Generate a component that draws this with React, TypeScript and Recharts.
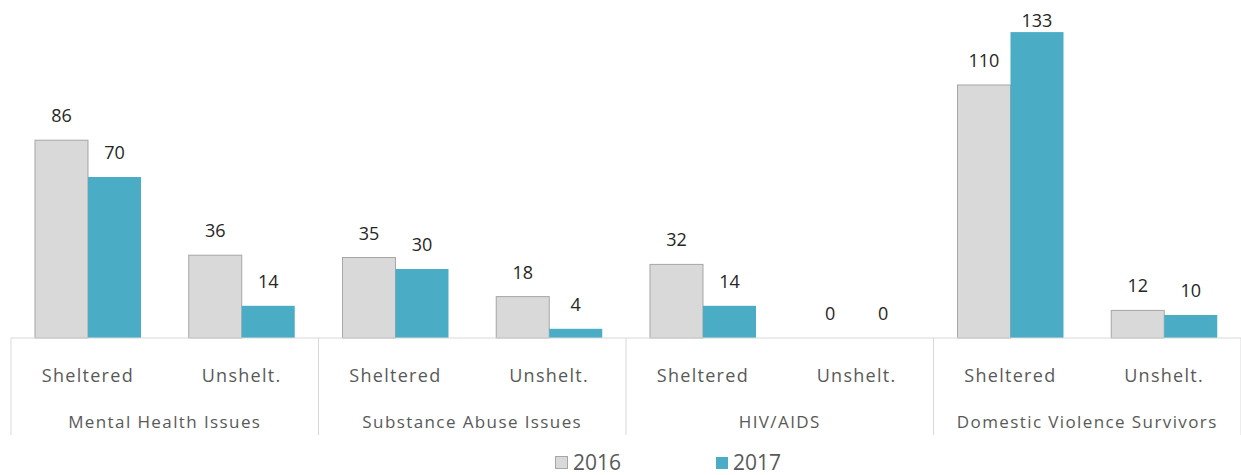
import React from 'react';
import { BarChart, Bar, XAxis, YAxis, Legend, LabelList } from 'recharts';

// group/subgroup labels and counts
const groups = ['Mental Health Issues', 'Substance Abuse Issues', 'HIV/AIDS', 'Domestic Violence Survivors'];
const subLabels = ['Sheltered', 'Unshelt.'];
const values2016 = [86, 36, 35, 18, 32, 0, 110, 12];
const values2017 = [70, 14, 30, 4, 14, 0, 133, 10];

const GRAY = '#d9d9d9';
const GRAY_EDGE = '#a6a6a6';
const TEAL = '#4bacc6';
const FONT = '"Open Sans", sans-serif';

const data = values2016.map((v, i) => ({
  sub: subLabels[i % 2],
  group: groups[Math.floor(i / 2)],
  y2016: v,
  y2017: values2017[i],
}));

const TwoLevelTick = (props: any) => {
  const { x, y, payload, index } = props;
  const half = payload?.offset || 77;
  const isFirst = index % 2 === 0;
  return (
    <g>
      <text x={x} y={y + 44} textAnchor="middle" fill="#595959" fontSize={18} fontFamily={FONT} letterSpacing={1.3}>
        {payload.value}
      </text>
      {isFirst && (
        <>
          <text x={x + half} y={y + 90} textAnchor="middle" fill="#595959" fontSize={17} fontFamily={FONT} letterSpacing={1.4}>
            {data[index].group}
          </text>
          <line x1={x - half} x2={x - half} y1={y} y2={y + 97} stroke="#d9d9d9" />
        </>
      )}
      {index === data.length - 1 && <line x1={x + half} x2={x + half} y1={y} y2={y + 97} stroke="#d9d9d9" />}
    </g>
  );
};

// value label above the bar; kept inside the top edge like the original
const ValueLabel = (props: any) => {
  const { x, y, width, height, value } = props;
  const top = Math.min(y, y + height);
  const baseline = Math.max(top - 18, 27);
  return (
    <text x={x + width / 2} y={baseline} textAnchor="middle" fill="#262626" fontSize={18} fontFamily={FONT}>
      {value}
    </text>
  );
};

// skip drawing zero-height bars but keep their labels
const BarShape = (props: any) => {
  const { x, y, width, height, fill, stroke, value } = props;
  if (!value) return null;
  return <rect x={x} y={y} width={width} height={height} fill={fill} stroke={stroke} />;
};

const LegendBox = () => (
  <div style={{ height: 37, position: 'relative', fontFamily: FONT, fontSize: 21, lineHeight: '21px', color: '#595959' }}>
    <div style={{ position: 'absolute', left: 555, top: 14, display: 'flex', alignItems: 'center' }}>
      <span style={{ width: 11, height: 11, background: GRAY, border: `1px solid ${GRAY_EDGE}`, marginRight: 5 }} />
      <span>2016</span>
    </div>
    <div style={{ position: 'absolute', left: 716, top: 14, display: 'flex', alignItems: 'center' }}>
      <span style={{ width: 12, height: 12, background: TEAL, marginRight: 5 }} />
      <span>2017</span>
    </div>
  </div>
);

export default function App() {
  return (
    <div style={{ position: 'absolute', left: 0, top: 0, background: '#fff' }}>
      <BarChart
        width={1241}
        height={475}
        data={data}
        margin={{ top: 16, right: 0, bottom: 0, left: 11 }}
        barCategoryGap="15.6%"
        barGap={0}
      >
        <XAxis
          dataKey="sub"
          interval={0}
          height={100}
          tickSize={0}
          tickMargin={0}
          tickLine={false}
          axisLine={{ stroke: '#d9d9d9' }}
          tick={<TwoLevelTick />}
        />
        <YAxis hide domain={[0, 140]} />
        <Legend verticalAlign="bottom" content={<LegendBox />} wrapperStyle={{ left: 0, width: 1241 }} />
        <Bar dataKey="y2016" name="2016" fill={GRAY} stroke={GRAY_EDGE} minPointSize={0.01} shape={<BarShape />} isAnimationActive={false}>
          <LabelList dataKey="y2016" content={<ValueLabel />} />
        </Bar>
        <Bar dataKey="y2017" name="2017" fill={TEAL} minPointSize={0.01} shape={<BarShape />} isAnimationActive={false}>
          <LabelList dataKey="y2017" content={<ValueLabel />} />
        </Bar>
      </BarChart>
    </div>
  );
}
